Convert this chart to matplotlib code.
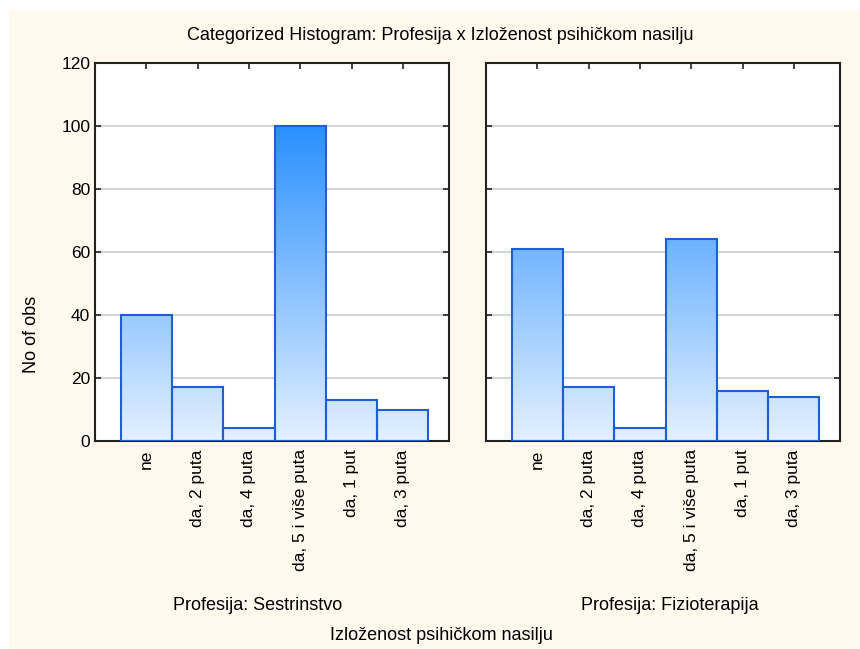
import numpy as np
import matplotlib
matplotlib.use("Agg")
import matplotlib.pyplot as plt
from matplotlib.colors import LinearSegmentedColormap
from matplotlib.patches import Rectangle

# Counts per category for each profession
categories = ["ne", "da, 2 puta", "da, 4 puta", "da, 5 i više puta", "da, 1 put", "da, 3 puta"]
sestrinstvo = [40, 17, 4, 100, 13, 10]
fizioterapija = [61, 17, 4, 64, 16, 14]
panel_titles = ["Profesija: Sestrinstvo", "Profesija: Fizioterapija"]
y_ticks = [0, 20, 40, 60, 80, 100, 120]

plt.rcParams["font.family"] = ["Liberation Sans", "DejaVu Sans"]

bg = "#FFF9EE"
edge = "#1F5FD6"
grad = LinearSegmentedColormap.from_list("bluegrad", ["#E4F0FF", "#2A90FF"])

fig = plt.figure(figsize=(8.6, 6.49), dpi=100, facecolor="white")
# cream panel behind everything, thin white margin on top/left
fig.patches.append(Rectangle((9 / 860, 0), 1, 1 - 10 / 649, transform=fig.transFigure,
                             facecolor=bg, edgecolor="none", zorder=-10))

ax_h = (441 - 63) / 649
ax_b = (649 - 441) / 649
ax_w = (449 - 95) / 860
axes = [fig.add_axes([95 / 860, ax_b, ax_w, ax_h]),
        fig.add_axes([486 / 860, ax_b, ax_w, ax_h])]

x = np.arange(len(categories))
for ax, vals in zip(axes, [sestrinstvo, fizioterapija]):
    ax.set_facecolor("white")
    ax.set_xlim(-1.0, 5.9)
    ax.set_ylim(0, 120)
    ax.set_yticks(y_ticks)
    for t in y_ticks[1:-1]:
        ax.axhline(t, color="#D6D6D6", lw=1.5, zorder=0)
    bars = ax.bar(x, vals, width=1.0, facecolor="none", edgecolor=edge, linewidth=1.5, zorder=3)
    # vertical gradient fill, shade tied to the y scale
    for b, v in zip(bars, vals):
        g = np.linspace(0, v, 200).reshape(-1, 1)
        im = ax.imshow(g, cmap=grad, vmin=0, vmax=100, aspect="auto", origin="lower",
                       extent=(b.get_x(), b.get_x() + b.get_width(), 0, v), zorder=2)
        im.set_clip_path(b)
    ax.set_xticks(x)
    ax.set_xticklabels(categories, rotation=90, fontsize=12.5)
    ax.tick_params(direction="in", length=4, width=1.2, top=True, right=True,
                   labelsize=12.5, color="#222222")
    ax.tick_params(axis="x", labelsize=12.5, pad=6)
    for s in ax.spines.values():
        s.set_linewidth(1.5)
        s.set_color("#222222")

axes[1].tick_params(axis="y", labelleft=False)

fig.text(440 / 860, 1 - 35 / 649, "Categorized Histogram: Profesija x Izloženost psihičkom nasilju",
         ha="center", va="center", fontsize=13)
fig.text(32 / 860, 1 - 334 / 649, "No of obs", rotation=90, ha="center", va="center", fontsize=13)
fig.text(258 / 860, 1 - 606 / 649, panel_titles[0], ha="center", va="center", fontsize=13)
fig.text(670 / 860, 1 - 606 / 649, panel_titles[1], ha="center", va="center", fontsize=13)
fig.text(441 / 860, 1 - 635 / 649, "Izloženost psihičkom nasilju", ha="center", va="center", fontsize=13)

fig.savefig("out.png", dpi=100, facecolor=fig.get_facecolor())
